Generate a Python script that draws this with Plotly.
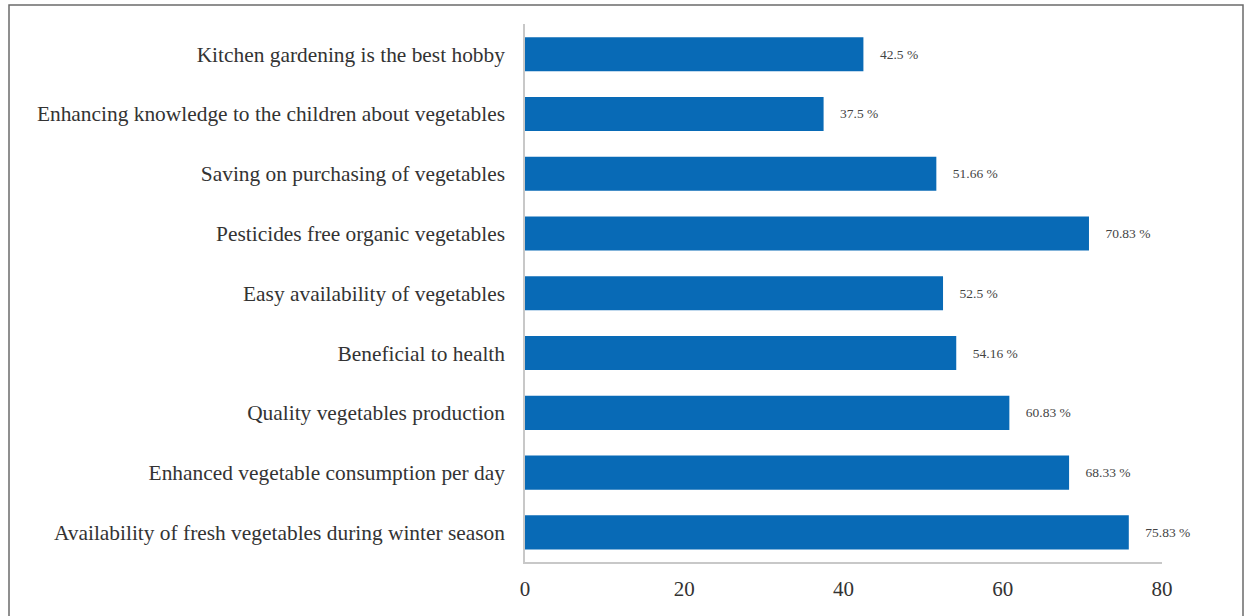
import plotly.graph_objects as go

categories = [
    "Availability of fresh vegetables during winter season",
    "Enhanced vegetable consumption per day",
    "Quality vegetables production",
    "Beneficial to health",
    "Easy availability of vegetables",
    "Pesticides free organic vegetables",
    "Saving on purchasing of vegetables",
    "Enhancing knowledge to the children about vegetables",
    "Kitchen gardening is the best hobby",
]
values = [75.83, 68.33, 60.83, 54.16, 52.5, 70.83, 51.66, 37.5, 42.5]
value_labels = ["75.83 %", "68.33 %", "60.83 %", "54.16 %", "52.5 %", "70.83 %", "51.66 %", "37.5 %", "42.5 %"]
x_ticks = [0, 20, 40, 60, 80]

FONT = "Liberation Serif, Times New Roman, serif"

fig = go.Figure(go.Bar(
    y=categories, x=values, orientation="h",
    marker=dict(color="#086ab6", line=dict(width=0)),
    width=0.57,
    text=["    " + t for t in value_labels],
    textposition="outside",
    textfont=dict(family=FONT, size=13.5, color="#444"),
    cliponaxis=False,
))

w, h = 1244, 616
ml, mr, mt, mb = 525, 82, 24, 54
pw, ph = w - ml - mr, h - mt - mb

def px(x):
    return (x - ml) / pw

def py(y):
    return (h - mb - y) / ph

fig.add_shape(type="rect", xref="paper", yref="paper",
              x0=px(9), x1=px(1243), y0=py(625), y1=py(5),
              line=dict(color="#6b6b6b", width=1.5), fillcolor="rgba(0,0,0,0)", layer="below")

fig.update_layout(
    width=w, height=h,
    margin=dict(l=ml, r=mr, t=mt, b=mb),
    paper_bgcolor="white", plot_bgcolor="white",
    showlegend=False,
    font=dict(family=FONT, color="#333"),
    xaxis=dict(range=[0, 80], tickvals=x_ticks, showgrid=False, zeroline=False,
               showline=True, linecolor="#c8c8c8", linewidth=1.5,
               tickfont=dict(family=FONT, size=21, color="#333"), ticks="outside",
               ticklen=7, tickcolor="rgba(0,0,0,0)"),
    yaxis=dict(showgrid=False, zeroline=False, showline=True, linecolor="#c8c8c8", linewidth=1.5,
               tickfont=dict(family=FONT, size=21.4, color="#333"), ticks="outside",
               ticklen=14, tickcolor="rgba(0,0,0,0)", range=[-0.495, 8.505]),
)

fig.write_html("out.html", config={"displayModeBar": False},
               post_script="document.body.style.margin='0';document.body.style.overflow='hidden';")
